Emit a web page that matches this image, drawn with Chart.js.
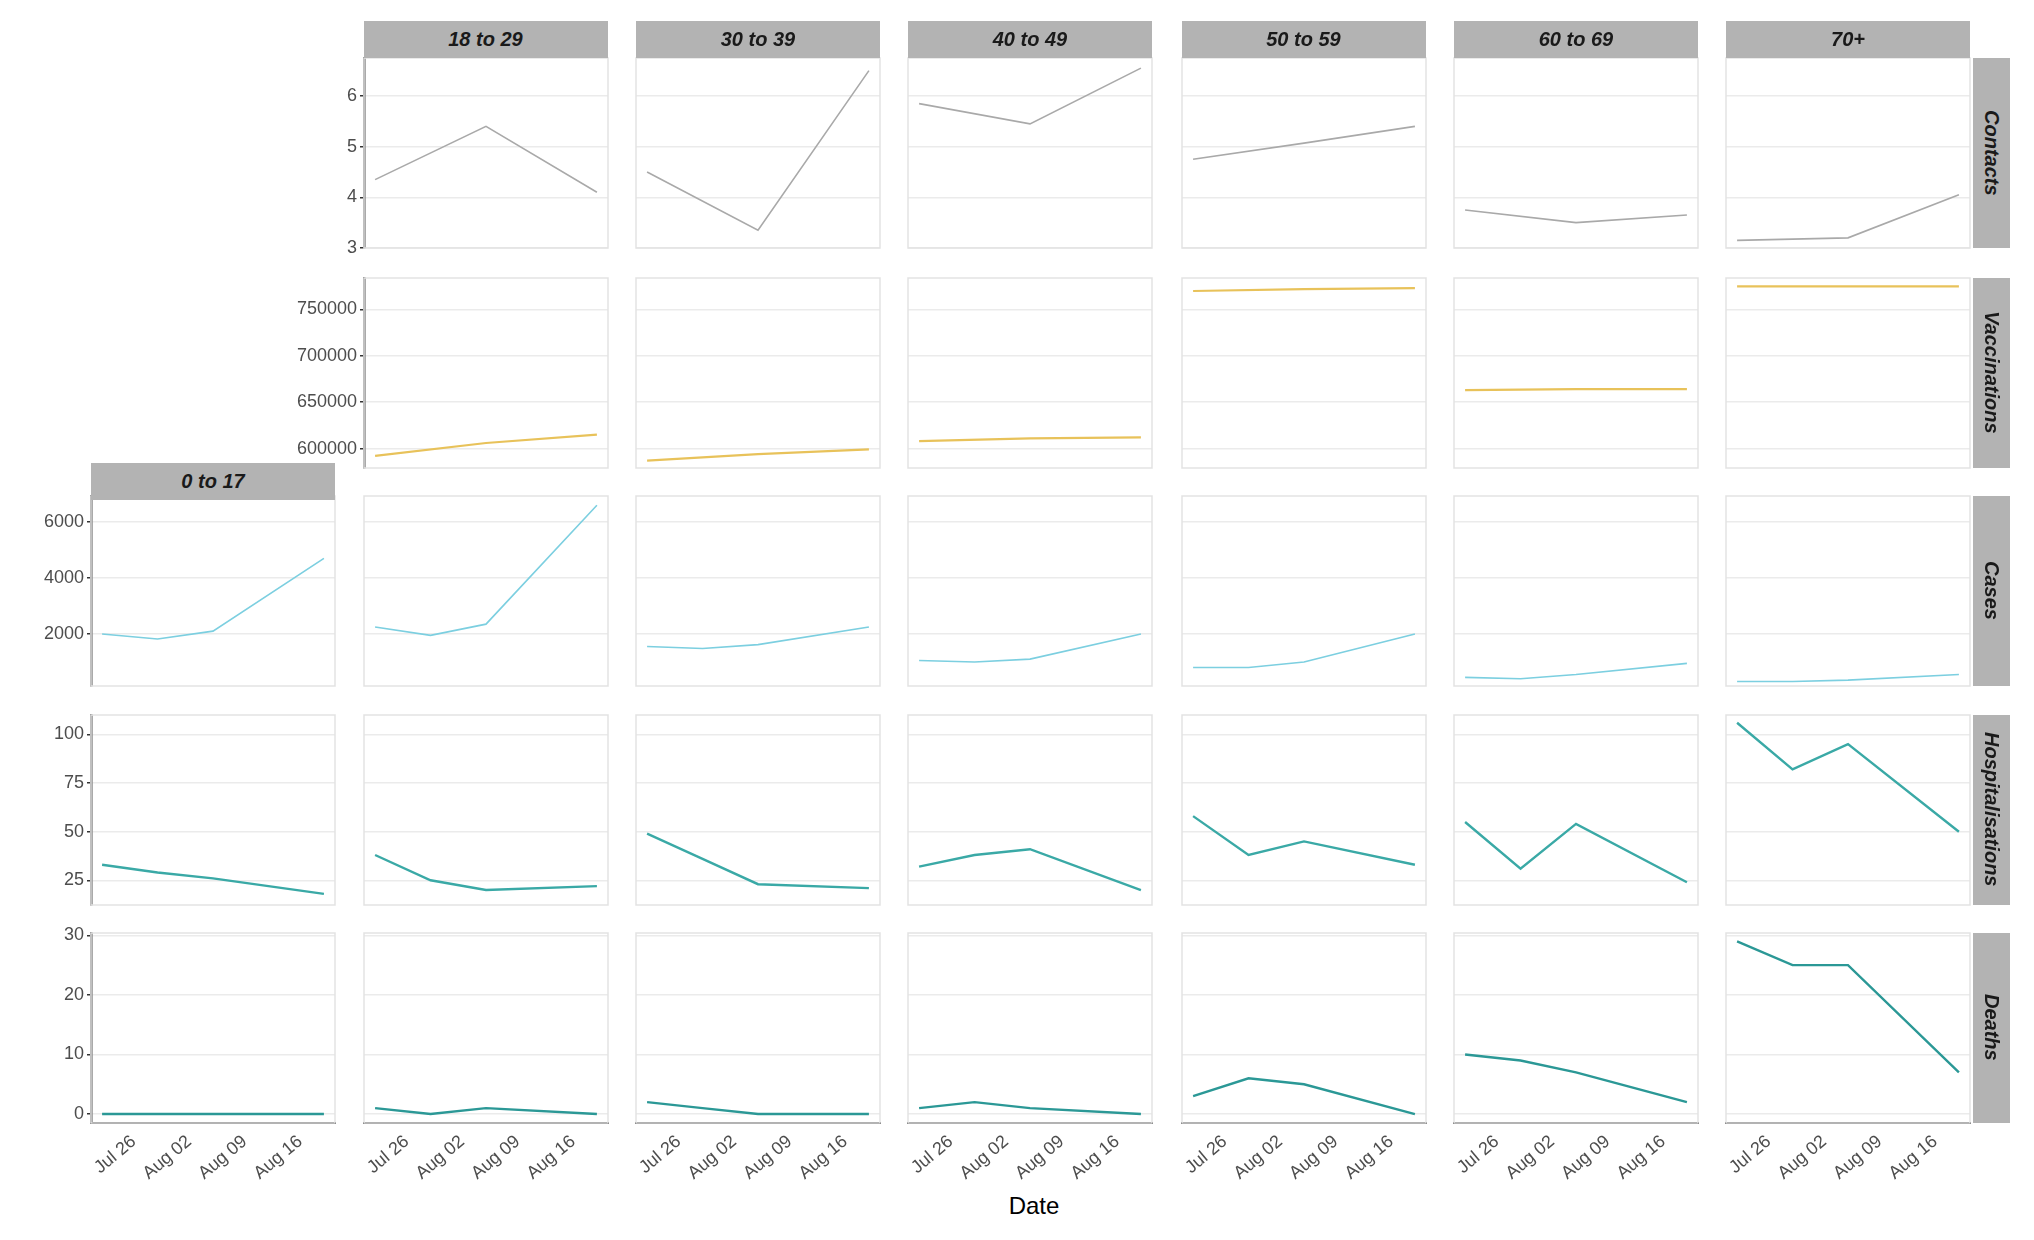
<!DOCTYPE html>
<html><head><meta charset="utf-8">
<script src="https://cdn.jsdelivr.net/npm/chart.js@4"></script>
<style>
body{margin:0;background:#fff;width:2034px;height:1240px;position:relative;overflow:hidden;font-family:"Liberation Sans",Arial,sans-serif}
.c{position:absolute}
.strip{position:absolute;background:#b3b3b3;color:#1a1a1a;font-weight:bold;font-style:italic;font-size:20px;display:flex;align-items:center;justify-content:center}
.rs{writing-mode:vertical-rl}
#xt{position:absolute;top:1192px;text-align:center;font-size:24px;color:#000}
</style></head><body>
<div id="xt" style="left:0;width:2068px">Date</div>
<script>
const ageGroups=["0 to 17","18 to 29","30 to 39","40 to 49","50 to 59","60 to 69","70+"];
const measures=["Contacts","Vaccinations","Cases","Hospitalisations","Deaths"];
const dates3=[22,36,50];           // day-of-July: Jul 22, Aug 05, Aug 19
const dates4=[22,29,36,50];        // Jul 22, Jul 29, Aug 05, Aug 19
const xTickDays=[26,33,40,47];
const xTickLabels=["Jul 26","Aug 02","Aug 09","Aug 16"];
const contacts=[null,[4.35,5.4,4.1],[4.5,3.35,6.5],[5.85,5.45,6.55],[4.75,5.07,5.4],[3.75,3.5,3.65],[3.15,3.2,4.05]];
const vaccinations=[null,[592000,606000,615000],[587000,594000,599000],[608000,611000,612000],[770000,772000,773000],[663000,664000,664000],[775000,775000,775000]];
const cases=[[2000,1820,2100,4700],[2250,1950,2350,6600],[1550,1480,1620,2250],[1050,1000,1100,2000],[800,800,1000,2000],[450,400,550,950],[300,300,350,550]];
const hosp=[[33,29,26,18],[38,25,20,22],[49,36,23,21],[32,38,41,20],[58,38,45,33],[55,31,54,24],[106,82,95,50]];
const deaths=[[0,0,0,0],[1,0,1,0],[2,1,0,0],[1,2,1,0],[3,6,5,0],[10,9,7,2],[29,25,25,7]];
const yTicks=[[3,4,5,6],[600000,650000,700000,750000],[2000,4000,6000],[25,50,75,100],[0,10,20,30]];
const yRange=[[3,6.75],[579000,784000],[140,6930],[12.3,110],[-1.5,30.4]];

const rowData=[contacts,vaccinations,cases,hosp,deaths];
const rowDates=[dates3,dates3,dates4,dates4,dates4];
const colors=["#a9a9a9","#e8c25a","#7ccfe0","#3aa9a6","#2b9896"];
const widths=[1.6,2.2,1.6,2.4,2.4];

const colX=[91,363.5,636,908,1181.5,1454,1726],PW=244;
const rowY=[58,277.5,495.5,714.5,932.5],PH=190;
const AXW=110,XAH=95,PAD=16;

const frame={id:'frame',beforeDatasetsDraw(ch){const a=ch.chartArea,c=ch.ctx;c.save();c.strokeStyle='#e3e3e3';c.lineWidth=1.5;c.strokeRect(a.left,a.top,a.right-a.left,a.bottom-a.top);c.restore();}};

function addDiv(cls,txt,l,t,w,h){const d=document.createElement('div');d.className=cls;d.style.left=l+'px';d.style.top=t+'px';d.style.width=w+'px';d.style.height=h+'px';if(txt!==null)d.innerHTML='<span>'+txt+'</span>';document.body.appendChild(d);return d;}

for(let r=0;r<5;r++){
  const firstCol=r<2?1:0;
  for(let c=firstCol;c<7;c++){
    const left=c===firstCol, bottom=r===4;
    const w=PW+(left?AXW:0)+2*PAD, h=PH+(bottom?XAH:0)+2*PAD;
    const d=addDiv('c',null,colX[c]-(left?AXW:0)-PAD,rowY[r]-PAD,w,h);
    const cv=document.createElement('canvas');d.appendChild(cv);
    const pts=rowData[r][c].map((v,i)=>({x:rowDates[r][i],y:v}));
    new Chart(cv,{type:'line',
      data:{datasets:[{data:pts,borderColor:colors[r],borderWidth:widths[r],pointRadius:0,tension:0,fill:false}]},
      options:{responsive:true,maintainAspectRatio:false,animation:false,
        layout:{padding:PAD},
        plugins:{legend:{display:false},tooltip:{enabled:false}},
        scales:{
          x:{type:'linear',min:20.6,max:51.4,
            afterBuildTicks(ax){ax.ticks=xTickDays.map(v=>({value:v}));},
            afterFit(ax){ax.height=bottom?XAH:0;},
            grid:{display:false,drawTicks:bottom,tickLength:5,color:'#333'},
            border:{display:bottom,color:'#222',width:2},
            ticks:{display:bottom,minRotation:40,maxRotation:40,color:'#4d4d4d',font:{size:18,family:'Liberation Sans'},
              callback:(v)=>xTickLabels[xTickDays.indexOf(v)]}},
          y:{min:yRange[r][0],max:yRange[r][1],
            afterBuildTicks(ax){ax.ticks=yTicks[r].map(v=>({value:v}));},
            afterFit(ax){ax.width=left?AXW:0;},
            grid:{color:'#ebebeb',lineWidth:1.5,drawTicks:left,tickLength:4,tickColor:'#333'},
            border:{display:left,color:'#555',width:2.5},
            ticks:{display:left,color:'#4d4d4d',padding:3,font:{size:18,family:'Liberation Sans'},callback:v=>String(v)}}
        }},
      plugins:[frame]});
  }
}
// strips drawn on top
for(let c=1;c<7;c++) addDiv('strip',ageGroups[c],colX[c],21,PW,37);
addDiv('strip',ageGroups[0],colX[0],463,PW,37);
for(let r=0;r<5;r++) addDiv('strip rs',measures[r],1973,rowY[r],37,PH);
</script></body></html>
